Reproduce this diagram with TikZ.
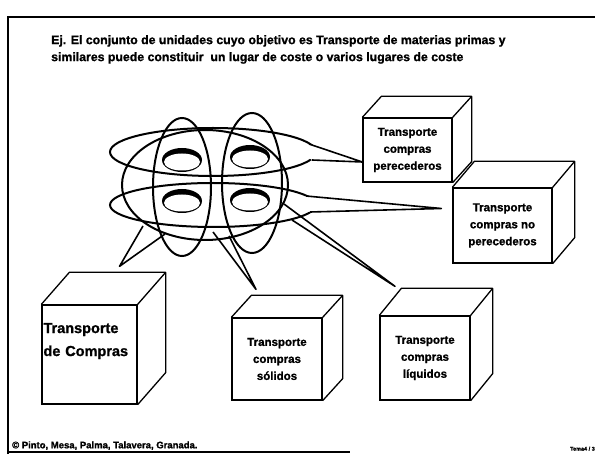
\documentclass[tikz,border=0pt]{standalone}
\usepackage{fontspec}
\setmainfont{Liberation Sans}[BoldFeatures={FakeBold=1.2}]
\usetikzlibrary{positioning, calc}

% top and side face of a box, drawn from the front node
\newcommand\caracubo[3]{%
  \draw[line width=1.3pt, line join=round] (#1.north west) -- ++(#2,#3)
    -- ($(#1.north east)+(#2,#3)$) -- ($(#1.south east)+(#2,#3)$) -- (#1.south east)
    (#1.north east) -- ($(#1.north east)+(#2,#3)$);}

\begin{document}
\begin{tikzpicture}[x=1pt, y=-1pt,
    cubo/.style={draw, line width=1.3pt, inner sep=1pt, align=center,
      font=\fontsize{11.5}{17}\selectfont\bfseries},
    ring/.style={line width=2pt},
    tail/.style={line width=1.6pt, line join=round}
]
\useasboundingbox (0,0) rectangle (595,454);

% frame
\draw[line width=2.2pt] (595,17) -- (8,17) -- (8,454);
\draw[line width=1.5pt] (8,452) -- (350,452);

\node[anchor=north west, align=left, inner sep=0,
  font=\fontsize{12.3}{17}\selectfont\bfseries] (titulo) at (51,35)
  {Ej. El conjunto de unidades cuyo objetivo es Transporte de materias primas y\\
   similares puede constituir\ \ un lugar de coste o varios lugares de coste};

% boxes
\node[cubo, minimum width=89pt, minimum height=64pt] (per) at (407.5,150) {Transporte\\compras\\perecederos};
\node[cubo, minimum width=99pt, minimum height=75pt] (noper) at (502.5,225.5) {Transporte\\compras no\\perecederos};
\node[cubo, minimum width=90pt, minimum height=84pt] (liq) at (425,358) {Transporte\\compras\\líquidos};
\node[cubo, minimum width=90pt, minimum height=82pt] (sol) at (277,359) {Transporte\\compras\\sólidos};
\node[cubo, minimum width=95pt, minimum height=99pt, align=left, text width=92pt,
  font=\fontsize{14.5}{23}\selectfont\bfseries] (comp) at (89.5,354.5) {Transporte\\de Compras\\\strut};
\caracubo{per}{19}{-21}
\caracubo{noper}{22}{-26}
\caracubo{liq}{22}{-27}
\caracubo{sol}{20}{-22}
\caracubo{comp}{28}{-32}

% tips of the tails
\coordinate (tper) at ($(per.west)+(0,12)$);
\coordinate (tnoper) at ($(noper.west)+(-11,-17)$);
\coordinate (tcomp) at ($(comp.north)+(30,-38)$);
\coordinate (tsol) at ($(sol.north)+(-21,-28)$);
\coordinate (tliq) at ($(liq.north)+(-30,-29)$);

% grouping
\draw[ring] (205,185) ellipse [x radius=83, y radius=55];
\draw[ring] (182,187) ellipse [x radius=29, y radius=69];
\draw[ring] (252,183) ellipse [x radius=30, y radius=70];
\draw[ring] (213,152) ellipse [x radius=103, y radius=24];
\draw[ring] (213,205) ellipse [x radius=103, y radius=22];

\fill[white] (309,144) -- (tper) -- (312,160) -- (300,152) -- cycle;
\draw[tail] (309,144) -- (tper) -- (312,160);
\fill[white] (306,196) -- (tnoper) -- (310,212) -- (298,205) -- cycle;
\draw[tail] (306,196) -- (tnoper) -- (310,212);
\draw[tail] (143,226) -- (tcomp) -- (165,234);
\draw[tail] (213,232) -- (tsol) -- (229,236);
\draw[tail] (284,204) -- (tliq) -- (292,220);

\foreach \cx/\cy in {182/160, 250/157, 182/201, 250/200} {
  \fill (\cx,\cy) ellipse [x radius=20, y radius=12];
  \fill[white] (\cx,\cy+2) ellipse [x radius=18, y radius=8.5];
}

\node[anchor=south west, inner sep=0, font=\fontsize{9.5}{11}\selectfont\bfseries] (pie) at (12,450)
  {© Pinto, Mesa, Palma, Talavera, Granada.};
\node[anchor=south east, inner sep=0, font=\fontsize{5.5}{6}\selectfont\bfseries] (tema) at (595,451) {Tema4 / 3};
\end{tikzpicture}
\end{document}
